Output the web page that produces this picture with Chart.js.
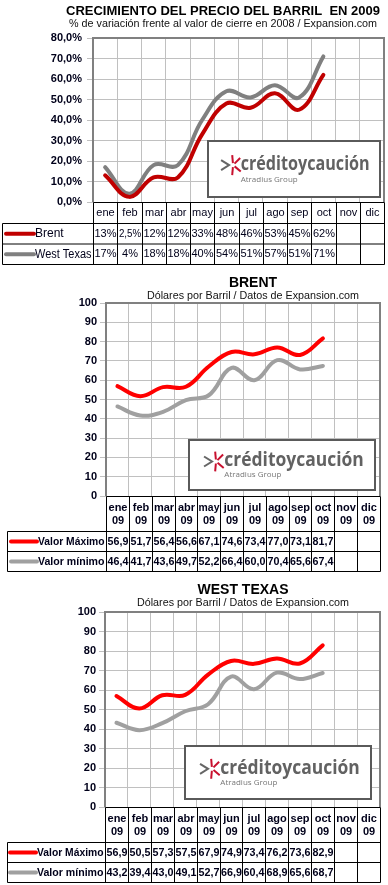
<!DOCTYPE html>
<html lang="es">
<head>
<meta charset="utf-8">
<title>Precio del barril 2009</title>
<script src="https://cdn.jsdelivr.net/npm/chart.js@4.4.1/dist/chart.umd.min.js"></script>
<style>
    html, body { margin: 0; padding: 0; background: #fff; }
    #wrap { position: relative; width: 388px; height: 885px; }
    canvas { position: absolute; left: 0; }
</style>
</head>
<body>
<div id="wrap">
    <canvas id="chartCrecimiento" width="388" height="270" style="top:0"></canvas>
    <canvas id="chartBrent" width="388" height="310" style="top:270px"></canvas>
    <canvas id="chartWest" width="388" height="305" style="top:580px"></canvas>
</div>
<script>
// Datos
const meses = ['ene', 'feb', 'mar', 'abr', 'may', 'jun', 'jul', 'ago', 'sep', 'oct', 'nov', 'dic'];
const anio = '09';
const crecimientoBrent = [13, 2.5, 12, 12, 33, 48, 46, 53, 45, 62];
const crecimientoWest = [17, 4, 18, 18, 40, 54, 51, 57, 51, 71];
const brentMaximo = [56.9, 51.7, 56.4, 56.6, 67.1, 74.6, 73.4, 77.0, 73.1, 81.7];
const brentMinimo = [46.4, 41.7, 43.6, 49.7, 52.2, 66.4, 60.0, 70.4, 65.6, 67.4];
const westMaximo = [56.9, 50.5, 57.3, 57.5, 67.9, 74.9, 73.4, 76.2, 73.6, 82.9];
const westMinimo = [43.2, 39.4, 43.0, 49.1, 52.7, 66.9, 60.4, 68.9, 65.6, 68.7];
const ejePorcentaje = [0, 80, 10];   // min, max, paso
const ejeDolares = [0, 100, 10];

const FUENTE = "'Liberation Sans', Arial, sans-serif";
const COLOR_TEXTO = '#00001a';
const COLOR_REJILLA = '#c0c0c0';

Chart.defaults.font.family = FUENTE;
Chart.defaults.animation = false;

function formatoPorcentaje(v) {
    return String(v).replace('.', ',') + '%';
}

function formatoDolares(v) {
    return v.toFixed(1).replace('.', ',');
}

function linea(ctx, x1, y1, x2, y2) {
    ctx.moveTo(x1, y1);
    ctx.lineTo(x2, y2);
}

function dibujarTitulos(ctx, cfg) {
    ctx.save();
    ctx.fillStyle = '#000';
    ctx.textAlign = 'center';
    ctx.textBaseline = 'middle';
    ctx.font = 'bold ' + cfg.tamTitulo + 'px ' + FUENTE;
    ctx.fillText(cfg.titulo, cfg.centro, cfg.yTitulo, cfg.anchoTitulo);
    ctx.font = '11px ' + FUENTE;
    ctx.fillStyle = '#111';
    ctx.fillText(cfg.subtitulo, cfg.centro, cfg.ySubtitulo, cfg.anchoSubtitulo);
    ctx.restore();
}

function dibujarTabla(chart, cfg) {
    const ctx = chart.ctx;
    const area = chart.chartArea;
    const escala = chart.scales.x;
    const n = meses.length;
    const ancho = (area.right - area.left) / n;
    const bordes = [];
    for (let i = 0; i <= n; i++) {
        bordes.push(Math.round(escala.getPixelForValue(i) - ancho / 2) + 0.5);
    }
    const yMes = Math.round(area.bottom) + 0.5;
    const yFila1 = yMes + cfg.altoMes;
    const yFin = yFila1 + cfg.altoFila * cfg.series.length;

    ctx.save();
    ctx.strokeStyle = '#000';
    ctx.lineWidth = 1;
    ctx.beginPath();
    linea(ctx, bordes[0], yMes, bordes[n], yMes);
    for (let k = 0; k <= cfg.series.length; k++) {
        const y = yFila1 + cfg.altoFila * k;
        linea(ctx, cfg.izquierda, y, bordes[n], y);
    }
    bordes.forEach(b => linea(ctx, b, yMes, b, yFin));
    linea(ctx, cfg.izquierda, yFila1, cfg.izquierda, yFin);
    ctx.stroke();

    // Etiquetas de mes
    ctx.fillStyle = COLOR_TEXTO;
    ctx.textAlign = 'center';
    ctx.textBaseline = 'middle';
    ctx.font = cfg.pesoTabla + ' 11px ' + FUENTE;
    meses.forEach((mes, i) => {
        const xc = (bordes[i] + bordes[i + 1]) / 2;
        if (cfg.conAnio) {
            ctx.fillText(mes, xc, yMes + cfg.altoMes * 0.33, ancho - 2);
            ctx.fillText(anio, xc, yMes + cfg.altoMes * 0.7, ancho - 2);
        } else {
            ctx.fillText(mes, xc, yMes + cfg.altoMes / 2, ancho - 2);
        }
    });

    // Filas de series
    cfg.series.forEach((s, k) => {
        const yc = yFila1 + cfg.altoFila * (k + 0.5);
        ctx.strokeStyle = s.color;
        ctx.lineWidth = 4;
        ctx.lineCap = 'round';
        ctx.beginPath();
        linea(ctx, cfg.muestra[0], yc, cfg.muestra[1], yc);
        ctx.stroke();

        ctx.fillStyle = COLOR_TEXTO;
        ctx.textAlign = 'left';
        ctx.font = cfg.pesoLeyenda + ' ' + cfg.tamLeyenda + 'px ' + FUENTE;
        ctx.fillText(s.nombre, cfg.muestra[1] + 1, yc, bordes[0] - cfg.muestra[1] - 3);

        ctx.textAlign = 'center';
        ctx.font = cfg.pesoTabla + ' 11px ' + FUENTE;
        s.datos.forEach((v, i) => {
            ctx.fillText(cfg.formato(v), (bordes[i] + bordes[i + 1]) / 2, yc, ancho - 2);
        });
    });
    ctx.restore();
}

function dibujarMarco(chart) {
    const ctx = chart.ctx;
    const a = chart.chartArea;
    ctx.save();
    ctx.strokeStyle = '#808080';
    ctx.lineWidth = 2;
    ctx.beginPath();
    linea(ctx, a.left, a.bottom, a.left, a.top);
    ctx.lineTo(a.right, a.top);
    ctx.lineTo(a.right, a.bottom);
    ctx.stroke();
    ctx.restore();
}

function dibujarLogo(ctx, r) {
    ctx.save();
    ctx.fillStyle = '#fff';
    ctx.fillRect(r.x, r.y, r.w, r.h);
    ctx.strokeStyle = '#5a5a5a';
    ctx.lineWidth = 2;
    ctx.strokeRect(r.x, r.y, r.w, r.h);

    // icono
    const cx = r.x + r.w * 0.14;
    const cy = r.y + r.h * 0.43;
    ctx.strokeStyle = '#666';
    ctx.lineWidth = 2;
    ctx.beginPath();
    ctx.moveTo(cx - 11, cy - 5);
    ctx.lineTo(cx - 3, cy);
    ctx.lineTo(cx - 11, cy + 5);
    ctx.stroke();
    ctx.strokeStyle = '#c8102e';
    [-95, -45, 40, 95].forEach(ang => {
        const rad = ang * Math.PI / 180;
        ctx.beginPath();
        ctx.moveTo(cx + 1 + Math.cos(rad) * 2, cy + Math.sin(rad) * 2);
        ctx.lineTo(cx + 1 + Math.cos(rad) * 10, cy + Math.sin(rad) * 10);
        ctx.stroke();
    });

    ctx.fillStyle = '#626262';
    ctx.textAlign = 'left';
    ctx.textBaseline = 'alphabetic';
    ctx.font = 'bold ' + r.tam + 'px "Open Sans", ' + FUENTE;
    ctx.fillText('créditoycaución', r.x + r.w * 0.19, r.y + r.h * 0.52, r.w * 0.75);
    ctx.font = '8px "Open Sans", ' + FUENTE;
    ctx.fillStyle = '#777';
    ctx.fillText('Atradius Group', r.x + r.w * 0.19, r.y + r.h * 0.74);
    ctx.restore();
}

function crearGrafico(id, cfg) {
    const ctx = document.getElementById(id).getContext('2d');
    const conjuntos = cfg.series.map(s => ({
        label: s.nombre,
        data: s.datos,
        borderColor: s.color,
        borderWidth: 4,
        tension: 0.4,
        pointRadius: 0,
        borderCapStyle: 'round',
        fill: false
    }));

    const pluginDecoracion = {
        id: 'decoracion' + id,
        beforeDraw(chart) {
            const c = chart.ctx;
            c.save();
            c.fillStyle = '#fff';
            c.fillRect(0, 0, chart.width, chart.height);
            c.restore();
        },
        afterDraw(chart) {
            dibujarTitulos(chart.ctx, cfg);
            dibujarMarco(chart);
            dibujarTabla(chart, cfg);
            dibujarLogo(chart.ctx, cfg.logo);
        }
    };

    return new Chart(ctx, {
        type: 'line',
        data: { labels: meses, datasets: conjuntos },
        options: {
            responsive: false,
            layout: { padding: cfg.relleno },
            plugins: {
                legend: { display: false },
                tooltip: { enabled: false }
            },
            scales: {
                x: {
                    offset: true,
                    ticks: { display: false },
                    grid: { color: COLOR_REJILLA, offset: true, drawTicks: false },
                    border: { display: false },
                    afterFit: function (scale) { scale.height = 0; }
                },
                y: {
                    min: cfg.eje[0],
                    max: cfg.eje[1],
                    ticks: {
                        stepSize: cfg.eje[2],
                        padding: cfg.rellenoTicks,
                        color: COLOR_TEXTO,
                        font: { size: 11, weight: 'bold' },
                        callback: cfg.formatoEje
                    },
                    grid: { color: COLOR_REJILLA, tickLength: 6 },
                    border: { display: false },
                    afterFit: function (scale) { scale.width = cfg.anchoEje; }
                }
            }
        },
        plugins: [pluginDecoracion]
    });
}

crearGrafico('chartCrecimiento', {
    titulo: 'CRECIMIENTO DEL PRECIO DEL BARRIL  EN 2009',
    subtitulo: '% de variación frente al valor de cierre en 2008 / Expansion.com',
    tamTitulo: 13, centro: 223, yTitulo: 11, anchoTitulo: 316,
    ySubtitulo: 24, anchoSubtitulo: 308,
    eje: ejePorcentaje,
    formatoEje: v => v.toFixed(1).replace('.', ',') + '%',
    anchoEje: 93, rellenoTicks: 5,
    relleno: { top: 38, right: 4, bottom: 68, left: 0 },
    series: [
        { nombre: 'Brent', datos: crecimientoBrent, color: '#c00000' },
        { nombre: 'West Texas', datos: crecimientoWest, color: '#808080' }
    ],
    formato: formatoPorcentaje,
    conAnio: false, altoMes: 21, altoFila: 20.5,
    izquierda: 2.5, muestra: [6, 34],
    pesoTabla: 'normal', pesoLeyenda: 'normal', tamLeyenda: 12,
    logo: { x: 208, y: 141, w: 172, h: 56, tam: 19 }
});

crearGrafico('chartBrent', {
    titulo: 'BRENT',
    subtitulo: 'Dólares por Barril / Datos de Expansion.com',
    tamTitulo: 14, centro: 253, yTitulo: 13, anchoTitulo: 200,
    ySubtitulo: 26, anchoSubtitulo: 212,
    eje: ejeDolares,
    formatoEje: v => v,
    anchoEje: 106, rellenoTicks: 3,
    relleno: { top: 33, right: 8, bottom: 84, left: 0 },
    series: [
        { nombre: 'Valor Máximo', datos: brentMaximo, color: '#ff0000' },
        { nombre: 'Valor mínimo', datos: brentMinimo, color: '#a0a0a0' }
    ],
    formato: formatoDolares,
    conAnio: true, altoMes: 35, altoFila: 20,
    izquierda: 7.5, muestra: [11, 37],
    pesoTabla: 'bold', pesoLeyenda: 'bold', tamLeyenda: 11,
    logo: { x: 189, y: 170, w: 186, h: 50, tam: 20 }
});

crearGrafico('chartWest', {
    titulo: 'WEST TEXAS',
    subtitulo: 'Dólares por Barril / Datos de Expansion.com',
    tamTitulo: 14, centro: 243, yTitulo: 10, anchoTitulo: 200,
    ySubtitulo: 23, anchoSubtitulo: 212,
    eje: ejeDolares,
    formatoEje: v => v,
    anchoEje: 105, rellenoTicks: 3,
    relleno: { top: 32, right: 8, bottom: 78, left: 0 },
    series: [
        { nombre: 'Valor Máximo', datos: westMaximo, color: '#ff0000' },
        { nombre: 'Valor mínimo', datos: westMinimo, color: '#a0a0a0' }
    ],
    formato: formatoDolares,
    conAnio: true, altoMes: 35, altoFila: 20,
    izquierda: 7.5, muestra: [10, 36],
    pesoTabla: 'bold', pesoLeyenda: 'bold', tamLeyenda: 11,
    logo: { x: 185, y: 166, w: 186, h: 53, tam: 20 }
});
</script>
</body>
</html>
